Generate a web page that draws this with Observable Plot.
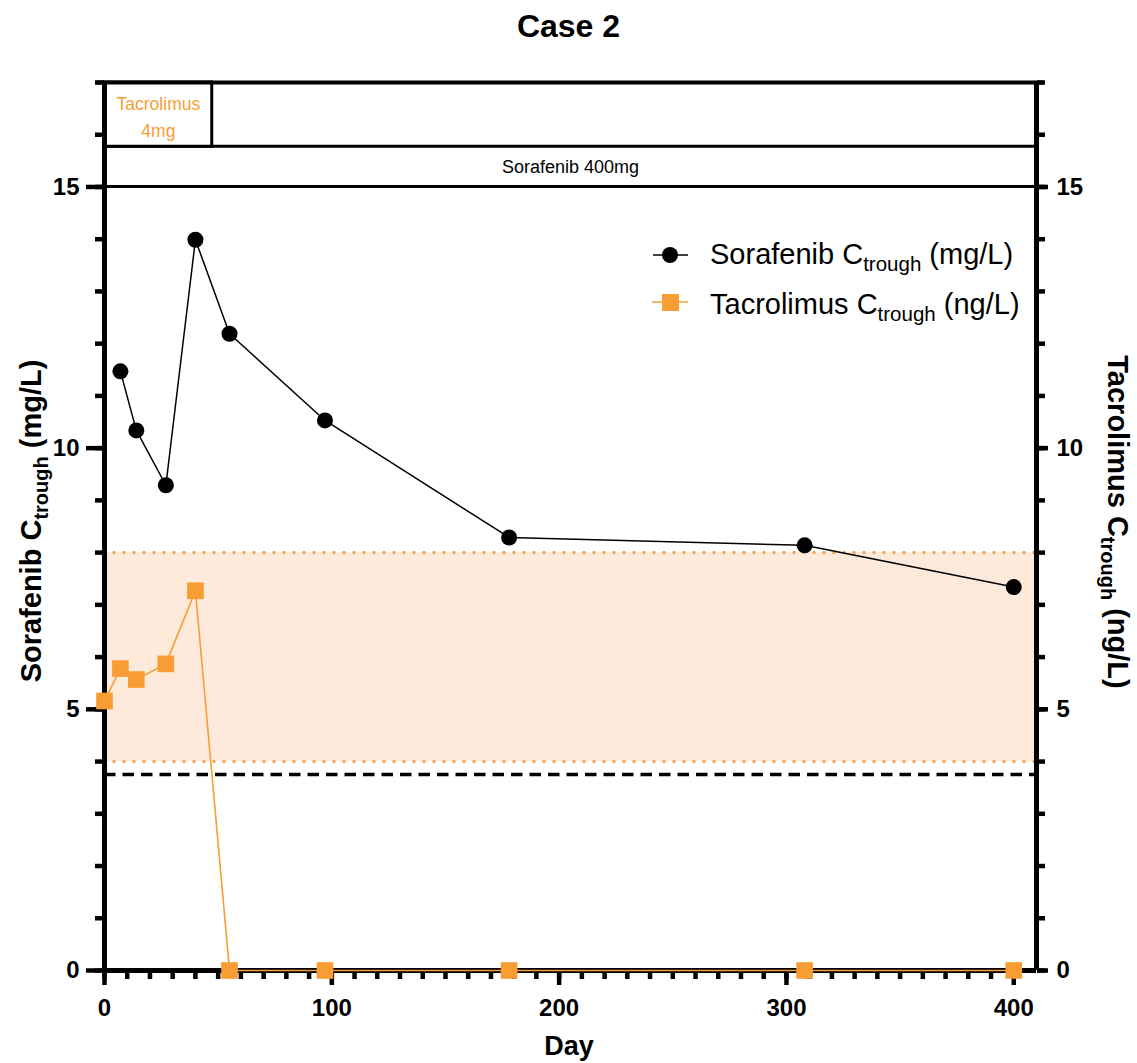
<!DOCTYPE html>
<html>
<head>
<meta charset="utf-8">
<script src="https://cdn.jsdelivr.net/npm/d3@7"></script>
<script src="https://cdn.jsdelivr.net/npm/@observablehq/plot@0.6"></script>
<style>
  body { margin: 0; background: #fff; font-family: "Liberation Sans", Arial, sans-serif; }
  #title { height: 60px; line-height: 52px; text-align: center; font-size: 32px; font-weight: bold; color: #000; }
  #chart svg { display: block; }
</style>
</head>
<body>
<div id="title">Case 2</div>
<div id="chart"></div>
<script>
// ---- data ----
const sorafDays   = [7, 14, 27, 40, 55, 97, 178, 308, 400];
const sorafValues = [11.47, 10.34, 9.29, 13.99, 12.19, 10.53, 8.29, 8.14, 7.34];
const tacroDays   = [0, 7, 14, 27, 40, 55, 97, 178, 308, 400];
const tacroValues = [5.16, 5.78, 5.57, 5.87, 7.27, 0, 0, 0, 0, 0];
const xMajorTicks = [0, 100, 200, 300, 400];
const yMajorTicks = [0, 5, 10, 15];
const xDomain = [0, 410];
const yDomain = [0, 17];
const tacroTarget = [4, 8];
const sorafThreshold = 3.75;
const regimenLabels = ["Sorafenib 400mg", "Tacrolimus\n4mg"];
const regimenStart = [0, 0];
const regimenEnd = [410, 47.4];
const regimenLow = [15, 15.77];
const regimenHigh = [15.77, 17];

const ORANGE = "#f89d34";
const sorafData = sorafDays.map((d, i) => ({day: d, value: sorafValues[i]}));
const tacroData = tacroDays.map((d, i) => ({day: d, value: tacroValues[i]}));
const regimens = regimenLabels.map((l, i) => ({label: l, start: regimenStart[i], end: regimenEnd[i], lo: regimenLow[i], hi: regimenHigh[i]}));
const xMinor = d3.range(xDomain[0], xDomain[1], 10);
const yMinor = d3.range(yDomain[0], yDomain[1] + 1, 1);

const svg = Plot.plot({
  width: 1137,
  height: 1003,
  marginTop: 22,
  marginBottom: 93,
  marginLeft: 104,
  marginRight: 101,
  style: {fontFamily: "'Liberation Sans', Arial, sans-serif", background: "white", overflow: "visible", color: "black"},
  x: {domain: xDomain},
  y: {domain: yDomain},
  marks: [
    // target band
    Plot.rect([{x1: xDomain[0], x2: xDomain[1], y1: tacroTarget[0], y2: tacroTarget[1]}], {x1: "x1", x2: "x2", y1: "y1", y2: "y2", fill: "#fdeadb"}),
    Plot.ruleY(tacroTarget, {stroke: "#f5a55c", strokeWidth: 3.5, strokeDasharray: "0,10", strokeLinecap: "round"}),
    Plot.ruleY([sorafThreshold], {stroke: "black", strokeWidth: 3.5, strokeDasharray: "11.5,7"}),
    // regimen boxes
    Plot.rect(regimens, {x1: "start", x2: "end", y1: "lo", y2: "hi", fill: "white", stroke: "black", strokeWidth: 3}),
    Plot.text(regimens.slice(0, 1), {x: d => (d.start + d.end) / 2, y: d => (d.lo + d.hi) / 2, text: "label", fontSize: 18, fill: "black"}),
    Plot.text(regimens.slice(1), {x: d => (d.start + d.end) / 2, y: d => (d.lo + d.hi) / 2, text: "label", fontSize: 17.5, lineHeight: 1.55, fill: ORANGE}),
    // axes
    Plot.axisY({anchor: "left", ticks: yMinor, tickSize: 9, strokeWidth: 4.5, tickFormat: () => "", label: null}),
    Plot.axisY({anchor: "left", ticks: yMajorTicks, tickSize: 18, tickPadding: 7, strokeWidth: 4.5, fontSize: 24, fontWeight: "bold", label: null}),
    Plot.axisY({anchor: "right", ticks: yMinor, tickSize: 8, strokeWidth: 4.5, tickFormat: () => "", label: null}),
    Plot.axisY({anchor: "right", ticks: yMajorTicks, tickSize: 11, tickPadding: 9, strokeWidth: 4.5, fontSize: 24, fontWeight: "bold", label: null}),
    Plot.axisX({anchor: "bottom", ticks: xMinor, tickSize: 9, strokeWidth: 4.5, tickFormat: () => "", label: null}),
    Plot.axisX({anchor: "bottom", ticks: xMajorTicks, tickSize: 15, tickPadding: 13, strokeWidth: 4.5, fontSize: 24, fontWeight: "bold", label: null}),
    Plot.ruleX([xDomain[0]], {stroke: "black", strokeWidth: 5}),
    Plot.ruleX([xDomain[1]], {stroke: "black", strokeWidth: 5}),
    Plot.ruleY([yDomain[0]], {stroke: "black", strokeWidth: 5}),
    Plot.ruleY([yDomain[1]], {stroke: "black", strokeWidth: 4, insetLeft: -7, insetRight: -7}),
    // data
    Plot.line(sorafData, {x: "day", y: "value", stroke: "black", strokeWidth: 1.5}),
    Plot.dot(sorafData, {x: "day", y: "value", r: 8, fill: "black"}),
    Plot.line(tacroData, {x: "day", y: "value", stroke: ORANGE, strokeWidth: 1.6}),
    Plot.dot(tacroData, {x: "day", y: "value", symbol: "square", r: 9.4, fill: ORANGE})
  ]
});

document.getElementById("chart").appendChild(svg);

const s = d3.select(svg);
const FF = "'Liberation Sans', Arial, sans-serif";

function subText(g, main, sub, rest, size, subSize, weight, anchor) {
  const t = g.append("text").attr("font-family", FF).attr("font-size", size).attr("font-weight", weight)
    .attr("fill", "black").attr("text-anchor", anchor);
  t.append("tspan").text(main);
  t.append("tspan").attr("font-size", subSize).attr("dy", size * 0.25).text(sub);
  t.append("tspan").attr("dy", -size * 0.25).text(rest);
  return t;
}

// axis titles
subText(s.append("g").attr("transform", "translate(41,461) rotate(-90)"), "Sorafenib C", "trough", " (mg/L)", 29, 20, "bold", "middle");
subText(s.append("g").attr("transform", "translate(1108,462) rotate(90)"), "Tacrolimus C", "trough", " (ng/L)", 29, 20, "bold", "middle");
s.append("text").attr("x", 569).attr("y", 995).attr("text-anchor", "middle").attr("font-family", FF)
  .attr("font-size", 27).attr("font-weight", "bold").attr("fill", "black").text("Day");

// legend
const lg = s.append("g");
lg.append("line").attr("x1", 653).attr("x2", 688).attr("y1", 195).attr("y2", 195).attr("stroke", "black").attr("stroke-width", 1.5);
lg.append("circle").attr("cx", 670).attr("cy", 195).attr("r", 8).attr("fill", "black");
subText(lg.append("g").attr("transform", "translate(710,204)"), "Sorafenib C", "trough", " (mg/L)", 29, 20.5, "normal", "start");
lg.append("line").attr("x1", 652).attr("x2", 688).attr("y1", 242).attr("y2", 242).attr("stroke", ORANGE).attr("stroke-width", 1.6);
lg.append("rect").attr("x", 662).attr("y", 234).attr("width", 17).attr("height", 17).attr("fill", ORANGE);
subText(lg.append("g").attr("transform", "translate(710,254)"), "Tacrolimus C", "trough", " (ng/L)", 29, 20.5, "normal", "start");
</script>
</body>
</html>
